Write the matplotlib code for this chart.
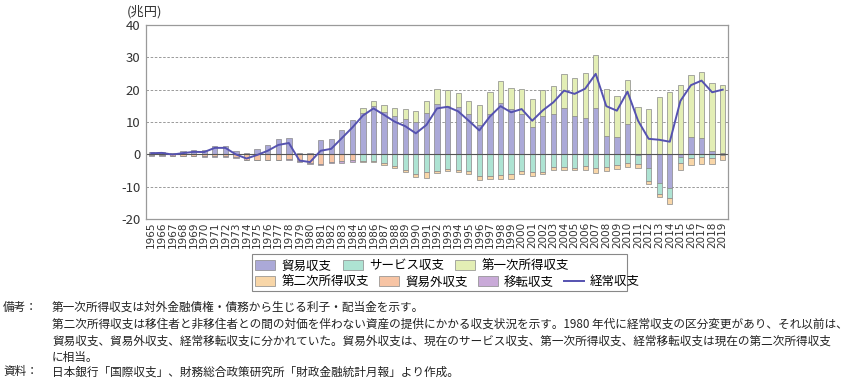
import numpy as np
import matplotlib.pyplot as plt
from matplotlib.lines import Line2D
from matplotlib.patches import Patch, Rectangle

plt.rcParams['font.family'] = ['Noto Sans CJK JP', 'DejaVu Sans']
plt.rcParams['axes.unicode_minus'] = False

years = list(range(1965, 2020))

# 1965-1984 (old classification), trillion yen
trade_old = [0.7, 0.83, 0.43, 0.9, 1.33, 1.44, 2.6, 2.6, 1.0, 0.4,
             1.6, 3.0, 4.6, 5.2, 0.5, 0.5, 4.5, 4.6, 7.6, 10.6]
invisible_old = [-0.32, -0.32, -0.43, -0.47, -0.5, -0.65, -0.6, -0.58, -0.95, -1.7,
                 -1.6, -1.75, -1.6, -1.55, -2.1, -2.6, -3.0, -2.45, -2.2, -1.9]
transfer_old = [-0.05, -0.06, -0.06, -0.07, -0.08, -0.08, -0.09, -0.11, -0.1, -0.08,
                -0.11, -0.1, -0.1, -0.11, -0.2, -0.3, -0.3, -0.3, -0.35, -0.35]

# 1985-2019 (BPM6)
trade_new = [12.8, 15.0, 13.2, 11.8, 11.0, 10.1, 12.9, 15.7, 15.0, 14.6,
             12.4, 9.0, 12.4, 16.0, 14.0, 12.6, 8.6, 12.0, 12.4, 14.4,
             11.8, 11.1, 14.2, 5.8, 5.3, 9.5, -0.3, -4.3, -8.8, -10.4,
             -0.9, 5.5, 5.0, 1.1, 0.5]
services_new = [-2.0, -2.0, -2.7, -3.7, -4.7, -6.0, -5.6, -5.2, -4.6, -4.9,
                -5.3, -6.8, -6.6, -6.5, -6.2, -5.2, -5.6, -5.4, -3.9, -3.8,
                -4.1, -3.7, -4.3, -3.9, -3.2, -2.7, -2.8, -3.8, -3.5, -3.1,
                -1.9, -1.1, -0.7, -1.0, -0.2]
primary_new = [1.5, 1.6, 2.2, 2.6, 3.1, 3.3, 3.5, 4.4, 4.9, 4.3,
               4.1, 6.2, 6.9, 6.6, 6.5, 7.6, 8.4, 7.8, 8.6, 10.3,
               11.9, 14.2, 16.4, 14.3, 12.6, 13.6, 14.6, 14.0, 17.6, 19.4,
               21.3, 19.1, 20.6, 21.0, 21.0]
secondary_new = [-0.3, -0.4, -0.5, -0.6, -0.7, -0.9, -1.7, -0.7, -0.6, -0.7,
                 -0.8, -1.0, -1.0, -1.1, -1.3, -1.0, -1.0, -0.8, -1.0, -0.9,
                 -0.8, -1.2, -1.4, -1.4, -1.2, -1.1, -1.1, -1.2, -1.0, -2.0,
                 -2.0, -2.1, -2.2, -2.0, -1.4]

current_account = [0.34, 0.45, -0.07, 0.38, 0.76, 0.71, 2.0, 2.0, -0.04, -1.3,
                   -0.2, 1.1, 2.9, 3.5, -1.9, -2.4, 1.1, 1.7, 5.0, 8.3,
                   12.0, 14.2, 12.2, 10.1, 8.7, 6.5, 9.1, 14.2, 14.7, 13.3,
                   10.4, 7.4, 11.7, 14.9, 13.0, 14.0, 10.4, 13.6, 16.1, 19.7,
                   18.7, 20.3, 24.9, 14.9, 13.5, 19.4, 10.4, 4.8, 4.5, 3.9,
                   16.5, 21.4, 22.8, 19.2, 20.0]

n_old = len(trade_old)
n_new = len(trade_new)
components = {
    '貿易収支': trade_old + trade_new,
    'サービス収支': [0] * n_old + services_new,
    '第一次所得収支': [0] * n_old + primary_new,
    '第二次所得収支': [0] * n_old + secondary_new,
    '貿易外収支': invisible_old + [0] * n_new,
    '移転収支': transfer_old + [0] * n_new,
}
colors = {
    '貿易収支': '#aba9d8',
    'サービス収支': '#aee3d3',
    '第一次所得収支': '#e3eeb5',
    '第二次所得収支': '#f8d6a8',
    '貿易外収支': '#f7c4a4',
    '移転収支': '#c9aad8',
}
line_color = '#5552b0'

fig = plt.figure(figsize=(8.56, 3.78), dpi=100)
ax = fig.add_axes([146 / 856, 1 - 219 / 378, (728 - 146) / 856, (219 - 25) / 378])

x = np.arange(len(years))
pos = np.zeros(len(x))
neg = np.zeros(len(x))
for name, vals in components.items():
    v = np.array(vals, dtype=float)
    m = v != 0
    bottom = np.where(v >= 0, pos, neg)
    ax.bar(x[m], v[m], width=0.5, bottom=bottom[m], color=colors[name],
           edgecolor='#888888', linewidth=0.5, zorder=2)
    pos += np.clip(v, 0, None)
    neg += np.clip(v, None, 0)

ax.axhline(0, color='#555555', lw=0.8, zorder=2.5)
ax.plot(x, current_account, color=line_color, lw=1.4, zorder=3)

ax.set_xlim(-0.5, len(years) - 0.5)
ax.set_ylim(-20, 40)
ax.set_yticks(range(-20, 41, 10))
ax.set_xticks(x)
ax.set_xticklabels([str(y) for y in years], rotation=90, fontsize=7.5,
                   family='DejaVu Sans')
ax.tick_params(axis='y', labelsize=9.5, length=0, pad=4, colors='#333333')
ax.tick_params(axis='x', length=0, pad=2, colors='#333333')
ax.yaxis.grid(True, linestyle=(0, (3, 2)), color='#8a8a8a', lw=0.6)
ax.set_axisbelow(True)
for s in ax.spines.values():
    s.set_color('#9a9a9a')
    s.set_linewidth(0.9)

fig.text(127 / 856, 1 - 12 / 378, '(兆円)', fontsize=9.5, va='center', ha='left', color='#333333')

# legend (two rows inside one frame)
row1 = ['貿易収支', 'サービス収支', '第一次所得収支']
row2 = ['第二次所得収支', '貿易外収支', '移転収支']
h1 = [Patch(facecolor=colors[k], edgecolor='#888888', lw=0.5) for k in row1]
h2 = [Patch(facecolor=colors[k], edgecolor='#888888', lw=0.5) for k in row2]
h2.append(Line2D([], [], color=line_color, lw=1.4))
lab2 = row2 + ['経常収支']
leg_kw = dict(frameon=False, fontsize=9, handlelength=1.6, handleheight=0.8,
              handletextpad=0.5, borderpad=0, borderaxespad=0, loc='center left')
fig.legend(h1, row1, ncol=3, columnspacing=0.9,
           bbox_to_anchor=(255 / 856, 1 - 266 / 378), **leg_kw)
fig.legend(h2, lab2, ncol=4, columnspacing=0.8,
           bbox_to_anchor=(255 / 856, 1 - 282 / 378), **leg_kw)
fig.patches.append(Rectangle((252 / 856, 1 - 291 / 378), (627 - 252) / 856, (291 - 254) / 378,
                             transform=fig.transFigure, fill=False, edgecolor='#888888', lw=0.8))

# notes
note_fs = 8.4
notes = [
    (307, '備考：', '第一次所得収支は対外金融債権・債務から生じる利子・配当金を示す。'),
    (324, '', '第二次所得収支は移住者と非移住者との間の対価を伴わない資産の提供にかかる収支状況を示す。1980 年代に経常収支の区分変更があり、それ以前は、'),
    (341, '', '貿易収支、貿易外収支、経常移転収支に分かれていた。貿易外収支は、現在のサービス収支、第一次所得収支、経常移転収支は現在の第二次所得収支'),
    (357, '', 'に相当。'),
    (372, '資料：', '日本銀行「国際収支」、財務総合政策研究所「財政金融統計月報」より作成。'),
]
for ypix, label, body in notes:
    if label:
        fig.text(3 / 856, 1 - ypix / 378, label, fontsize=note_fs, va='center', color='#222222')
    fig.text(52 / 856, 1 - ypix / 378, body, fontsize=note_fs, va='center', color='#222222')

fig.savefig('out.png', dpi=100)
